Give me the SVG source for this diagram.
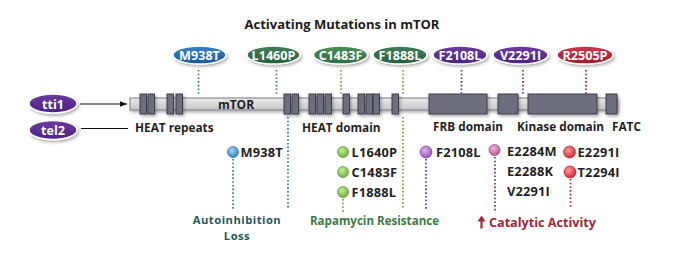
<svg xmlns="http://www.w3.org/2000/svg" width="680" height="260" viewBox="0 0 680 260">
<style>
text{font-family:"Open Sans","Liberation Sans",sans-serif;font-weight:700}
.title{font-size:13px;fill:#1a1a1a}
.ov{font-size:12.6px;fill:#fff;text-anchor:middle}
.lbl{font-size:11.8px;fill:#1f1f1f}
.mut{font-size:12.8px;fill:#1f1f1f;letter-spacing:0.2px}
.dot{fill:none;stroke-width:1.7;stroke-dasharray:1.6 2.1}
.teal{stroke:#2c7d8c}
.olive{stroke:#7d9a3c}
.purp{stroke:#5d2f93}
.red{stroke:#9c2236}
.blk{fill:#6d6e7e;stroke:#3c3d47;stroke-width:1}
.oval{stroke:#fff;stroke-width:1.5;filter:url(#sh)}
.auto{font-size:11.2px;fill:#1e5a5c;text-anchor:middle;letter-spacing:0.5px}
</style>
<defs>
<filter id="sh" x="-30%" y="-40%" width="160%" height="190%">
<feDropShadow dx="1.5" dy="2" stdDeviation="1.5" flood-color="#000" flood-opacity="0.3"/>
</filter>
<linearGradient id="bar" x1="0" y1="0" x2="0" y2="1">
<stop offset="0" stop-color="#ebebec"/><stop offset="1" stop-color="#c6c6c9"/>
</linearGradient>
<linearGradient id="gBlue" x1="0" y1="0" x2="0" y2="1"><stop offset="0" stop-color="#3b82c4"/><stop offset="1" stop-color="#17599d"/></linearGradient>
<linearGradient id="gDGreen" x1="0" y1="0" x2="0" y2="1"><stop offset="0" stop-color="#3f7f58"/><stop offset="1" stop-color="#285f3e"/></linearGradient>
<linearGradient id="gGreen" x1="0" y1="0" x2="0" y2="1"><stop offset="0" stop-color="#4a8e58"/><stop offset="1" stop-color="#2f6f40"/></linearGradient>
<linearGradient id="gPurp" x1="0" y1="0" x2="0" y2="1"><stop offset="0" stop-color="#6c3aa0"/><stop offset="1" stop-color="#4c2480"/></linearGradient>
<linearGradient id="gRed" x1="0" y1="0" x2="0" y2="1"><stop offset="0" stop-color="#c8394c"/><stop offset="1" stop-color="#a01c30"/></linearGradient>
<radialGradient id="cBlue" cx="0.4" cy="0.35" r="0.7"><stop offset="0" stop-color="#a9d6f5"/><stop offset="1" stop-color="#2b7cc0"/></radialGradient>
<radialGradient id="cGreen" cx="0.4" cy="0.35" r="0.7"><stop offset="0" stop-color="#c9ec9a"/><stop offset="1" stop-color="#6aae3a"/></radialGradient>
<radialGradient id="cPurp" cx="0.4" cy="0.35" r="0.7"><stop offset="0" stop-color="#e0b5f0"/><stop offset="1" stop-color="#9250b8"/></radialGradient>
<radialGradient id="cPink" cx="0.4" cy="0.35" r="0.7"><stop offset="0" stop-color="#f0b5da"/><stop offset="1" stop-color="#b9508f"/></radialGradient>
<radialGradient id="cRed" cx="0.4" cy="0.35" r="0.7"><stop offset="0" stop-color="#ff9a9a"/><stop offset="1" stop-color="#d21f2c"/></radialGradient>
<marker id="arr" viewBox="0 0 10 10" refX="10" refY="5" markerWidth="9" markerHeight="7" markerUnits="userSpaceOnUse" orient="auto">
<path d="M0,1 L10,5 L0,9 Z" fill="#111"/>
</marker>
</defs>
<rect width="680" height="260" fill="#fff"/>

<text class="title" x="342" y="29" text-anchor="middle">Activating Mutations in mTOR</text>

<g id="connectors">
<line x1="80" y1="104" x2="127" y2="104" stroke="#111" stroke-width="1.2" marker-end="url(#arr)"/>
<line x1="81" y1="128.5" x2="128" y2="128.5" stroke="#111" stroke-width="1.2"/>
<line class="dot teal" x1="198.5" y1="70" x2="198.5" y2="95"/>
<line class="dot teal" x1="276.5" y1="70" x2="276.5" y2="95"/>
<line class="dot olive" x1="341" y1="70" x2="341" y2="95"/>
<line class="dot olive" x1="403" y1="70" x2="403" y2="95"/>
<line class="dot purp" x1="461.5" y1="70" x2="461.5" y2="95"/>
<line class="dot red" x1="523" y1="70" x2="523" y2="95"/>
<line class="dot red" x1="586" y1="70" x2="586" y2="95"/>
<line class="dot teal" x1="288" y1="117" x2="288" y2="209"/>
<line class="dot olive" x1="403" y1="117" x2="403" y2="209"/>
<line class="dot teal" x1="233" y1="159" x2="233" y2="209"/>
<line class="dot olive" x1="343" y1="199" x2="343" y2="212"/>
<line class="dot purp" x1="426" y1="159" x2="426" y2="209"/>
<line class="dot purp" x1="495" y1="157" x2="495" y2="212"/>
<line class="dot red" x1="570.5" y1="179" x2="570.5" y2="207"/>
</g>

<g id="mtor">
<rect x="130" y="98" width="487" height="12" fill="url(#bar)" stroke="#7a7a82" stroke-width="1" filter="url(#sh)"/>
<g filter="url(#sh)">
<rect class="blk" x="140" y="94" width="6.5" height="20"/>
<rect class="blk" x="148" y="94" width="6.5" height="20"/>
<rect class="blk" x="167" y="94" width="6.5" height="20"/>
<rect class="blk" x="176" y="94" width="6.5" height="20"/>
<rect class="blk" x="284" y="94" width="6.5" height="20"/>
<rect class="blk" x="292" y="94" width="6.5" height="20"/>
<rect class="blk" x="309" y="94" width="6.5" height="20"/>
<rect class="blk" x="317" y="94" width="6.5" height="20"/>
<rect class="blk" x="325" y="94" width="6.5" height="20"/>
<rect class="blk" x="343" y="94" width="6.5" height="20"/>
<rect class="blk" x="358" y="94" width="6.5" height="20"/>
<rect class="blk" x="366" y="94" width="6.5" height="20"/>
<rect class="blk" x="373" y="94" width="6.5" height="20"/>
<rect class="blk" x="392" y="94" width="6.5" height="20"/>
<rect class="blk" x="429" y="94" width="58" height="20"/>
<rect class="blk" x="498" y="94" width="20" height="20"/>
<rect class="blk" x="528" y="94" width="69" height="20"/>
<rect class="blk" x="606" y="94" width="11" height="20"/>
</g>
<text x="236" y="108.5" font-size="12" text-anchor="middle" fill="#1f1f1f">mTOR</text>
</g>

<g id="tti1"><ellipse class="oval" cx="53" cy="103.5" rx="24" ry="9.5" fill="url(#gPurp)"/><text class="ov" x="53" y="108.5" font-size="13.5">tti1</text></g>
<g id="tel2"><ellipse class="oval" cx="53" cy="130" rx="24" ry="9.5" fill="url(#gPurp)"/><text class="ov" x="53" y="135" font-size="13.5">tel2</text></g>

<g id="ov-M938T"><ellipse class="oval" cx="199.5" cy="55" rx="26.5" ry="9" fill="url(#gBlue)"/><text class="ov" x="199.5" y="59.5">M938T</text></g>
<g id="ov-L1460P"><ellipse class="oval" cx="273.5" cy="55" rx="26.5" ry="9" fill="url(#gDGreen)"/><text class="ov" x="273.5" y="59.5">L1460P</text></g>
<g id="ov-C1483F"><ellipse class="oval" cx="340.5" cy="55" rx="27" ry="9" fill="url(#gGreen)"/><text class="ov" x="340.5" y="59.5">C1483F</text></g>
<g id="ov-F1888L"><ellipse class="oval" cx="400" cy="55" rx="27" ry="9" fill="url(#gDGreen)"/><text class="ov" x="400" y="59.5">F1888L</text></g>
<g id="ov-F2108L"><ellipse class="oval" cx="460" cy="55" rx="27" ry="9" fill="url(#gPurp)"/><text class="ov" x="460" y="59.5">F2108L</text></g>
<g id="ov-V2291I"><ellipse class="oval" cx="520.5" cy="55" rx="27.5" ry="9" fill="url(#gPurp)"/><text class="ov" x="520.5" y="59.5">V2291I</text></g>
<g id="ov-R2505P"><ellipse class="oval" cx="585" cy="55" rx="28" ry="9" fill="url(#gRed)"/><text class="ov" x="585" y="59.5">R2505P</text></g>

<g id="domains">
<text class="lbl" x="135" y="132">HEAT repeats</text>
<text class="lbl" x="302" y="132">HEAT domain</text>
<text class="lbl" x="433" y="131">FRB domain</text>
<text class="lbl" x="517" y="131">Kinase domain</text>
<text class="lbl" x="612" y="131">FATC</text>
</g>

<g id="grp-autoinhibition">
<circle cx="233" cy="152" r="5.5" fill="url(#cBlue)" stroke="#1d5f95" stroke-width="0.6"/>
<text class="mut" x="240.5" y="157">M938T</text>
<text class="auto" x="237" y="224">Autoinhibition</text>
<text class="auto" x="237" y="239.5">Loss</text>
</g>

<g id="grp-rapamycin">
<circle cx="343" cy="152" r="5.5" fill="url(#cGreen)" stroke="#4a8a2a" stroke-width="0.6"/>
<circle cx="343" cy="172" r="5.5" fill="url(#cGreen)" stroke="#4a8a2a" stroke-width="0.6"/>
<circle cx="343" cy="192" r="5.5" fill="url(#cGreen)" stroke="#4a8a2a" stroke-width="0.6"/>
<text class="mut" x="351.5" y="157">L1640P</text>
<text class="mut" x="351.5" y="177">C1483F</text>
<text class="mut" x="351.5" y="197">F1888L</text>
<text x="374.5" y="224.5" font-size="11.6" fill="#3d7a45" text-anchor="middle">Rapamycin Resistance</text>
</g>

<g id="grp-catalytic">
<circle cx="426" cy="152" r="6" fill="url(#cPurp)" stroke="#6b2f90" stroke-width="0.6"/>
<text class="mut" x="436" y="157">F2108L</text>
<circle cx="494.5" cy="150" r="5.5" fill="url(#cPink)" stroke="#8a3070" stroke-width="0.6"/>
<text class="mut" x="507" y="155.5">E2284M</text>
<text class="mut" x="507" y="175.5">E2288K</text>
<text class="mut" x="507" y="195.5">V2291I</text>
<circle cx="569.5" cy="152" r="6" fill="url(#cRed)" stroke="#a01520" stroke-width="0.6"/>
<circle cx="570" cy="172" r="6" fill="url(#cRed)" stroke="#a01520" stroke-width="0.6"/>
<text class="mut" x="577.5" y="157">E2291I</text>
<text class="mut" x="577.5" y="177">T2294I</text>
<path d="M481.5,228.5 V220" stroke="#a0263a" stroke-width="2.2" fill="none"/>
<path d="M477.5,221.5 L481.5,215.5 L485.5,221.5 Z" fill="#a0263a"/>
<text x="489" y="226.5" font-size="12.6" fill="#a0263a">Catalytic Activity</text>
</g>
</svg>
